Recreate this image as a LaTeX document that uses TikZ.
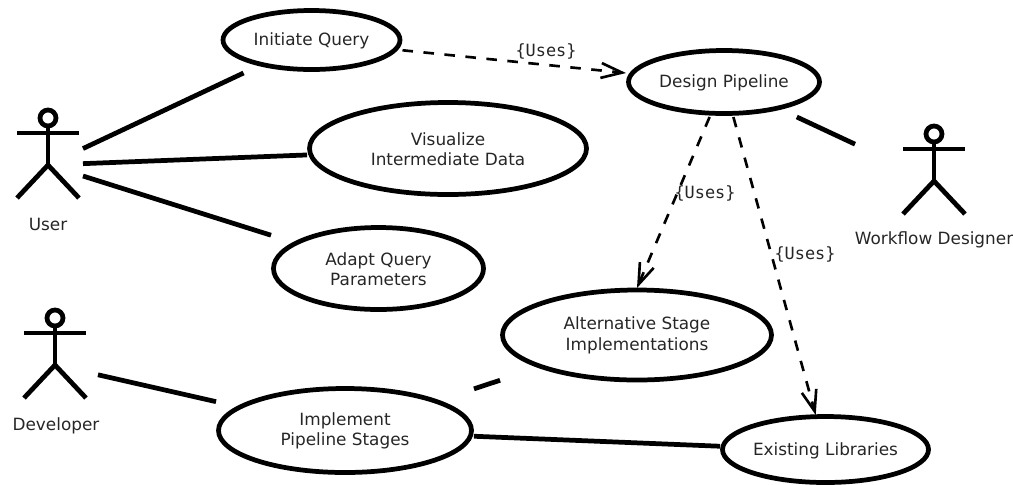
\documentclass[tikz,border=0pt]{standalone}
\usepackage{fontspec}
\setmainfont{DejaVu Sans}
\setmonofont{DejaVu Sans Mono}
\usetikzlibrary{arrows.meta}
\tikzset{
    usecase/.style={outer sep=0pt, inner sep=0pt, align=center, text=black!85, font=\fontsize{9.6}{11.6}\selectfont},
    solidline/.style={line width=2.7pt},
    usesline/.style={line width=1.5pt, dash pattern=on 6pt off 6pt, -{Straight Barb[length=12pt,width=8.5pt]}},
    actorbox/.style={outer sep=0pt, inner sep=0pt, minimum height=2cm},
    actorlabel/.style={text=black!85, font=\fontsize{9.6}{11.6}\selectfont},
    useslabel/.style={text=black!85, font=\ttfamily\fontsize{9.6}{11.6}\selectfont},
    actor/.pic={
        \draw[solidline] (0,-47) circle [radius=8];
        \draw[solidline] (0,-39) -- (0,0);
        \draw[solidline] (-31,-32) -- (31,-32);
        \draw[solidline] (-31,33) -- (0,0) -- (31,33);
    }
}

\begin{document}
\begin{tikzpicture}[x=0.02cm, y=-0.02cm]
        \useasboundingbox (0, 0) rectangle (1013, 484);

        \node[actorbox, minimum width=1.4cm] (user) at (48, 165) {};
        \node[actorbox, minimum width=1.72cm] (developer) at (55, 365) {};
        \node[actorbox, minimum width=3.16cm] (designer) at (934, 181) {};

        \pic at (user) {actor};
        \pic at (developer) {actor};
        \pic at (designer) {actor};

        \node[actorlabel] (userlabel) at (48, 224.5) {User};
        \node[actorlabel] (developerlabel) at (56, 426) {Developer};
        \node[actorlabel] (designerlabel) at (934, 240) {Workflow Designer};

        \node[usecase, minimum width=3.64cm, minimum height=1.28cm] (initiate) at (311.5, 41) {Initiate Query};
        \node[usecase, minimum width=5.64cm, minimum height=1.94cm] (visualize) at (448, 149.5) {Visualize\\Intermediate Data};
        \node[usecase, minimum width=4.3cm, minimum height=1.74cm] (adapt) at (378.5, 269) {Adapt Query\\Parameters};
        \node[usecase, minimum width=3.92cm, minimum height=1.36cm] (design) at (724, 83) {Design Pipeline};
        \node[usecase, minimum width=5.48cm, minimum height=1.9cm] (alternative) at (637, 335.5) {Alternative Stage\\Implementations};
        \node[usecase, minimum width=5.16cm, minimum height=1.78cm] (implement) at (345, 431) {Implement\\Pipeline Stages};
        \node[usecase, minimum width=4.22cm, minimum height=1.42cm] (existing) at (825.5, 450.5) {Existing Libraries};

        \draw[solidline] (311.5, 40) ellipse [x radius=88.5, y radius=29.5];
        \draw[solidline] (448, 148.5) ellipse [x radius=138.5, y radius=46];
        \draw[solidline] (378.5, 268.5) ellipse [x radius=105, y radius=41];
        \draw[solidline] (724, 82) ellipse [x radius=95.5, y radius=31.5];
        \draw[solidline] (637, 335) ellipse [x radius=134.5, y radius=45];
        \draw[solidline] (345, 430.5) ellipse [x radius=126.5, y radius=42];
        \draw[solidline] (825.5, 449.5) ellipse [x radius=103, y radius=33];

        \draw[solidline] (user) -- (initiate);
        \draw[solidline] (user) -- (visualize);
        \draw[solidline] (user) -- (adapt);
        \draw[solidline] (designer) -- (design);
        \draw[solidline] (developer) -- (implement);
        \draw[solidline] (implement) -- (alternative);
        \draw[solidline] (implement) -- (existing);

        \draw[usesline] (initiate) -- (design);
        \draw[usesline] (design) -- (alternative.north);
        \draw[usesline] (design) -- (existing);

        \node[useslabel] (usesquery) at (546, 51.5) {\{Uses\}};
        \node[useslabel] (usesstage) at (705, 193.5) {\{Uses\}};
        \node[useslabel] (useslibrary) at (805, 254.5) {\{Uses\}};
    \end{tikzpicture}
\end{document}
